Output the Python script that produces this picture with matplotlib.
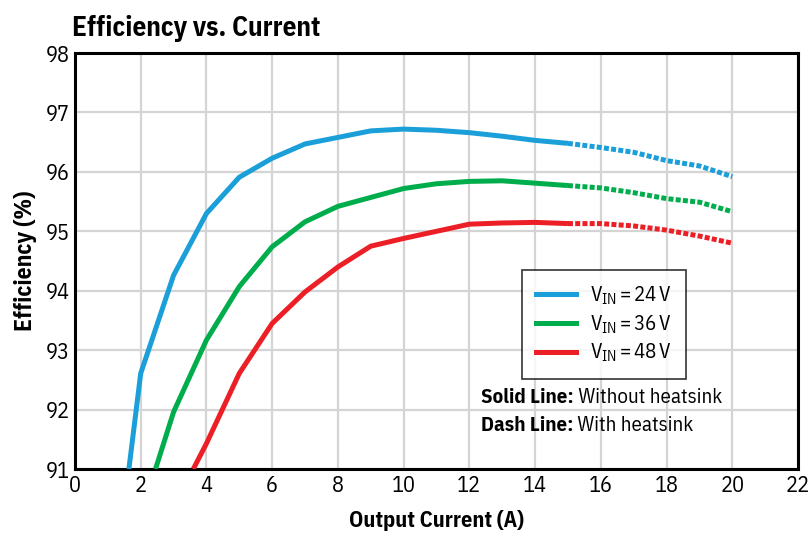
import numpy as np
import matplotlib.pyplot as plt
from matplotlib.lines import Line2D

FONT = 'IBM Plex Sans Condensed'
plt.rcParams['font.family'] = [FONT, 'DejaVu Sans']
plt.rcParams['mathtext.fontset'] = 'custom'
plt.rcParams['mathtext.rm'] = FONT
plt.rcParams['mathtext.it'] = FONT

# solid part (without heatsink)
cur_24 = [1.64, 2, 3, 4, 5, 6, 7, 8, 9, 10, 11, 12, 13, 14, 15]
eff_24 = [91.0, 92.61, 94.26, 95.30, 95.91, 96.23, 96.47, 96.58, 96.69, 96.72, 96.70, 96.66, 96.60, 96.53, 96.48]
cur_36 = [2.45, 3, 4, 5, 6, 7, 8, 9, 10, 11, 12, 13, 14, 15]
eff_36 = [91.0, 91.96, 93.17, 94.07, 94.74, 95.16, 95.42, 95.57, 95.72, 95.80, 95.84, 95.85, 95.81, 95.77]
cur_48 = [3.6, 4, 5, 6, 7, 8, 9, 10, 11, 12, 13, 14, 15]
eff_48 = [91.0, 91.43, 92.61, 93.45, 93.98, 94.40, 94.75, 94.88, 95.00, 95.12, 95.14, 95.15, 95.13]

# dashed part (with heatsink)
cur_hs = [15, 16, 17, 18, 19, 20]
eff_24_hs = [96.48, 96.41, 96.33, 96.19, 96.10, 95.92]
eff_36_hs = [95.77, 95.73, 95.65, 95.55, 95.49, 95.33]
eff_48_hs = [95.13, 95.13, 95.09, 95.02, 94.92, 94.80]

labels = [r'V$_{\mathrm{IN}}\,$=$\,$24$\,$V', r'V$_{\mathrm{IN}}\,$=$\,$36$\,$V', r'V$_{\mathrm{IN}}\,$=$\,$48$\,$V']
colors = ['#1b9fd9', '#00ad4c', '#ed1f26']

fig = plt.figure(figsize=(8.09, 5.34), dpi=100)
ax = fig.add_axes([0.0927, 0.1217, 0.8937, 0.779])

lw = 3.6
solid = [(cur_24, eff_24), (cur_36, eff_36), (cur_48, eff_48)]
dash = [eff_24_hs, eff_36_hs, eff_48_hs]
for (x, y), yh, c in zip(solid, dash, colors):
    ax.plot(x, y, color=c, lw=lw, solid_capstyle='butt', zorder=3)
    ax.plot(cur_hs, yh, color=c, lw=lw, dashes=(1.0, 0.45), dash_capstyle='butt', zorder=3)

ax.set_xlim(0, 22)
ax.set_ylim(91, 98)
ax.set_xticks(np.arange(0, 23, 2))
ax.set_yticks(np.arange(91, 99, 1))
ax.grid(True, color='#d4d4d4', lw=1.6, zorder=0)
ax.tick_params(length=0, labelsize=16, pad=4)
for s in ax.spines.values():
    s.set_linewidth(2.2)
    s.set_color('black')

ax.set_xlabel('Output Current (A)', fontsize=16, fontweight='bold', labelpad=10)
ax.set_ylabel('Efficiency (%)', fontsize=17, fontweight='bold', labelpad=6)
fig.text(0.089, 0.933, 'Efficiency vs. Current', fontsize=19.5, fontweight='bold', ha='left', va='baseline')

handles = [Line2D([], [], color=c, lw=lw) for c in colors]
leg = ax.legend(handles, labels, loc='upper left', bbox_to_anchor=(0.618, 0.478),
                borderaxespad=0, fontsize=15, frameon=True, fancybox=False, edgecolor='black',
                handlelength=1.9, handletextpad=0.65, labelspacing=0.3, borderpad=0.7)
leg.get_frame().set_linewidth(1.2)

t1 = ax.text(12.35, 92.21, 'Solid Line:', fontsize=15, fontweight='bold', va='center')
ax.annotate(' Without heatsink', xy=(1, 0.5), xycoords=t1, fontsize=15, va='center')
t2 = ax.text(12.35, 91.74, 'Dash Line:', fontsize=15, fontweight='bold', va='center')
ax.annotate(' With heatsink', xy=(1, 0.5), xycoords=t2, fontsize=15, va='center')

fig.savefig('out.png', dpi=100)
